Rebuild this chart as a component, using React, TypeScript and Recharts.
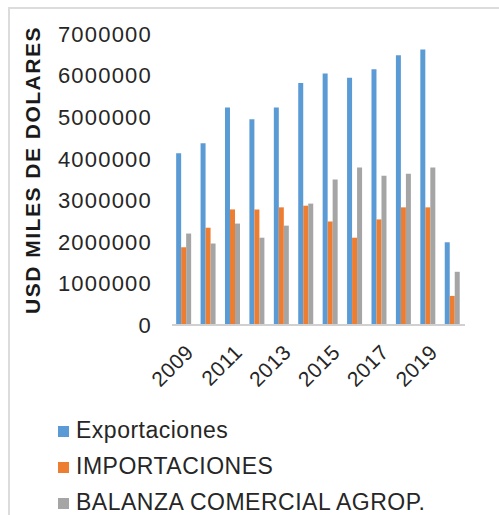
import { BarChart, Bar, XAxis, YAxis, Legend } from 'recharts'

const years = ['2009', '2010', '2011', '2012', '2013', '2014', '2015', '2016', '2017', '2018', '2019', '2020']
const exportaciones = [4130000, 4370000, 5230000, 4950000, 5230000, 5820000, 6050000, 5950000, 6150000, 6490000, 6630000, 1990000]
const importaciones = [1870000, 2340000, 2780000, 2780000, 2830000, 2870000, 2490000, 2100000, 2540000, 2830000, 2830000, 700000]
const balanza = [2200000, 1960000, 2440000, 2100000, 2390000, 2920000, 3500000, 3790000, 3590000, 3640000, 3790000, 1280000]
const yTicks = [0, 1000000, 2000000, 3000000, 4000000, 5000000, 6000000, 7000000]
const seriesNames = ['Exportaciones', 'IMPORTACIONES', 'BALANZA COMERCIAL AGROP.']

const FONT = '"Liberation Sans", Arial, sans-serif'
const TEXT = '#262626'

export default function App() {
  const data = years.map((year, i) => ({
    year,
    [seriesNames[0]]: exportaciones[i],
    [seriesNames[1]]: importaciones[i],
    [seriesNames[2]]: balanza[i],
  }))

  return (
    <div style={{ position: 'absolute', left: 0, top: 0, width: 499, height: 515, background: '#fff', fontFamily: FONT, overflow: 'hidden' }}>
      <div style={{ position: 'absolute', left: 8, top: 7, width: 491, height: 508, borderTop: '2px solid #dcdcdc', borderLeft: '2px solid #dcdcdc' }} />
      <BarChart width={499} height={515} data={data} margin={{ top: 34, right: 34, left: 0, bottom: 0 }} barCategoryGap="17%" barGap={0}>
        <XAxis
          dataKey="year"
          interval={1}
          height={82}
          tickSize={0}
          tickMargin={18}
          tickLine={false}
          axisLine={{ stroke: '#d0d0d0', strokeWidth: 2 }}
          angle={-45}
          textAnchor="end"
          tick={{ fontSize: 21, fill: TEXT, fontFamily: FONT, letterSpacing: 0.5 }}
        />
        <YAxis
          width={172}
          domain={[0, 7000000]}
          ticks={yTicks}
          interval={0}
          axisLine={false}
          tickLine={false}
          tickSize={0}
          tickMargin={20}
          tick={{ fontSize: 22, fill: TEXT, fontFamily: FONT, letterSpacing: 1.2 }}
        />
        <Legend
          layout="vertical"
          align="center"
          verticalAlign="bottom"
          iconType="square"
          iconSize={11}
          itemSorter={(item: any) => seriesNames.indexOf(item.value)}
          wrapperStyle={{ left: 58, top: 412, width: 441, height: 108, lineHeight: '36px', fontSize: 23, fontFamily: FONT }}
          formatter={(value) => <span style={{ color: TEXT, marginLeft: 3, letterSpacing: 0.5 }}>{value}</span>}
        />
        <Bar dataKey={seriesNames[0]} fill="#5b9bd5" isAnimationActive={false} />
        <Bar dataKey={seriesNames[1]} fill="#ed7d31" isAnimationActive={false} />
        <Bar dataKey={seriesNames[2]} fill="#a5a5a5" isAnimationActive={false} />
      </BarChart>
      <div
        style={{
          position: 'absolute',
          left: 33,
          top: 170,
          transform: 'translate(-50%, -50%) rotate(-90deg)',
          whiteSpace: 'nowrap',
          fontWeight: 'bold',
          fontSize: 21,
          letterSpacing: 1.5,
          color: '#1a1a1a',
        }}
      >
        USD MILES DE DOLARES
      </div>
    </div>
  )
}
